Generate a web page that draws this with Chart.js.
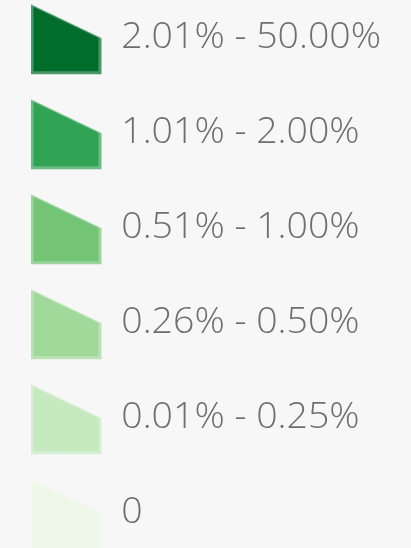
<!DOCTYPE html>
<html>
<head>
<meta charset="utf-8">
<script src="https://cdn.jsdelivr.net/npm/chart.js@4"></script>
<style>
  html, body { margin: 0; padding: 0; background: #f7f7f7; width: 411px; height: 548px; overflow: hidden; }
  #wrap { position: absolute; left: -27.5px; top: -39px; }
</style>
</head>
<body>
<div id="wrap"><canvas id="legendChart" width="900" height="660"></canvas></div>
<script>
const categories = ['2.01% - 50.00%', '1.01% - 2.00%', '0.51% - 1.00%', '0.26% - 0.50%', '0.01% - 0.25%', '0'];
const colors = ['#006d2c', '#31a354', '#74c476', '#a1d99b', '#c7e9c0', '#edf8e9'];

// slanted-top swatch, border is the fill at lower opacity
function swatch(color) {
  const c = document.createElement('canvas');
  c.width = 72;
  c.height = 76;
  const g = c.getContext('2d');
  const poly = pts => {
    g.beginPath();
    pts.forEach(([x, y], i) => i ? g.lineTo(x, y) : g.moveTo(x, y));
    g.closePath();
    g.fill();
  };
  g.fillStyle = color;
  g.globalAlpha = 0.7;
  poly([[0, 5], [71, 39], [71, 75], [0, 75]]);
  g.globalAlpha = 1;
  poly([[3, 7.4], [68, 38.6], [68, 72], [3, 72]]);
  return c;
}

const textColor = '#6e6e6e';
const ctx = document.getElementById('legendChart').getContext('2d');
new Chart(ctx, {
  type: 'bar',
  data: {
    labels: [],
    datasets: categories.map((label, i) => ({ label, data: [], backgroundColor: colors[i] }))
  },
  options: {
    responsive: false,
    animation: false,
    scales: { x: { display: false }, y: { display: false } },
    plugins: {
      tooltip: { enabled: false },
      legend: {
        position: 'left',
        align: 'start',
        labels: {
          usePointStyle: true,
          pointStyleWidth: 72,
          padding: 57.5,
          color: textColor,
          font: { family: '"Open Sans"', size: 37.5, weight: 300 },
          generateLabels: chart => chart.data.datasets.map((ds, i) => ({
            text: ds.label,
            fillStyle: ds.backgroundColor,
            strokeStyle: ds.backgroundColor,
            fontColor: textColor,
            lineWidth: 0,
            pointStyle: swatch(ds.backgroundColor),
            datasetIndex: i,
            hidden: false
          }))
        }
      }
    }
  }
});
</script>
</body>
</html>
